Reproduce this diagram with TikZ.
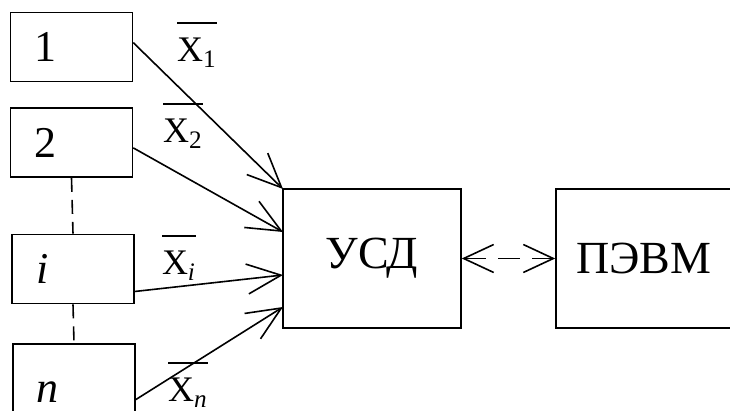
\documentclass[tikz,border=0pt]{standalone}
\usepackage{amsmath}
\usepackage{fontspec}
\setmainfont{Liberation Serif}
\usetikzlibrary{arrows.meta}

\tikzset{
  blk/.style={draw, line width=0.8pt, inner sep=0pt},
  src/.style={blk, minimum height=34.5pt, text width=37pt, inner xsep=12pt, align=left, font=\fontsize{22}{25}\selectfont},
  dev/.style={blk, minimum width=89pt, minimum height=69.5pt, font=\fontsize{23}{26}\selectfont},
  xlab/.style={anchor=base, inner sep=0pt, font=\fontsize{18}{20}\selectfont},
  feed/.style={line width=0.8pt, -{Straight Barb[length=17pt,width=15pt]}},
  link/.style={line width=0.8pt, dash pattern=on 7pt off 4pt},
  bus/.style={line width=0.8pt, dash pattern=on 11pt off 6pt, {Straight Barb[length=15pt,width=14pt]}-{Straight Barb[length=15pt,width=14pt]}}
}
\newcommand{\xsig}[1]{$\overline{\rule{0pt}{17pt}\text{X}_{\text{#1}}}$}

\begin{document}
\begin{tikzpicture}[x=0.5pt,y=-0.5pt]
\useasboundingbox (0,0) rectangle (730,411);
\clip (0,0) rectangle (730,411);

\node[src] (b1) at (71.5,47) {1};
\node[src] (b2) at (71.5,142.5) {2};
\node[src] (bi) at (73,269) {\textit{i}};
\node[src, minimum height=48pt] (bn) at (74,392) {\textit{n}};

\node[dev] (usd) at (372,258.5) {УСД};
\node[dev, minimum width=88pt] (pc) at (644,258.5) {ПЭВМ};

\coordinate (in1) at (283,189);
\coordinate (in2) at (283,232);
\coordinate (in3) at (283,275);
\coordinate (in4) at (283,307);

\draw[feed] (b1.4) -- (in1);
\draw[feed] (b2.-5) -- (in2);
\draw[feed] (bi.-20) -- (in3);
\draw[feed] (bn.-7) -- (in4);

\draw[link] (b2.south) -- (bi.north);
\draw[link] (bi.south) -- (bn.north);

\draw[bus] (usd.east) -- (pc.west);

\node[xlab] (x1) at (197,62) {\xsig{1}};
\node[xlab] (x2) at (183,143) {\xsig{2}};
\node[xlab] (xi) at (179,275) {\xsig{\textit{i}}};
\node[xlab] (xn) at (188,402) {\xsig{\textit{n}}};
\end{tikzpicture}
\end{document}
